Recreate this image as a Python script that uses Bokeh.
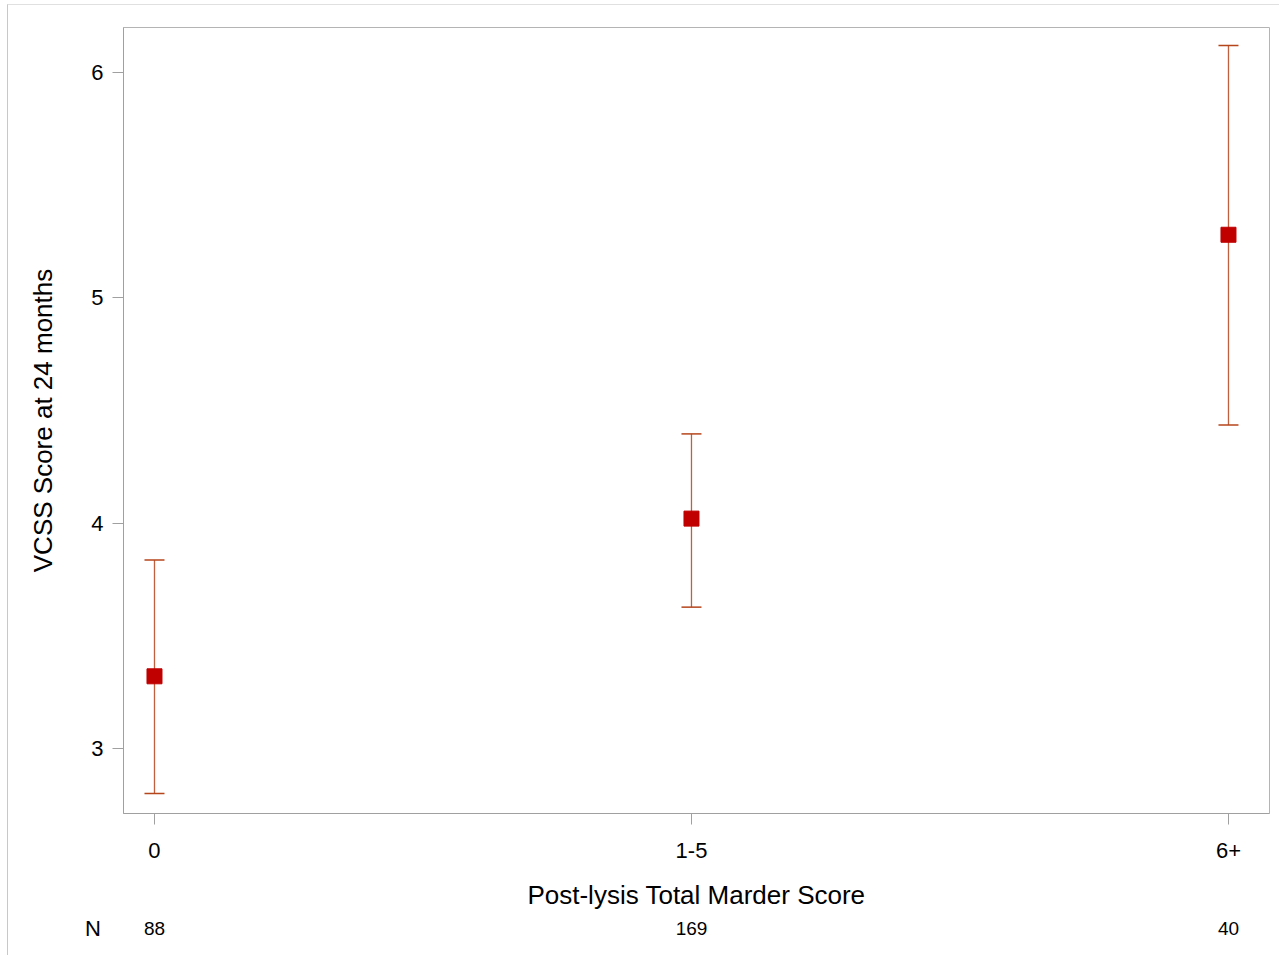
from bokeh.plotting import figure
from bokeh.models import (FixedTicker, Whisker, TeeHead, ColumnDataSource, Range1d, Label,
                          LinearAxis)
from bokeh.embed import file_html
from bokeh.resources import INLINE

# Data
categories = ["0", "1-5", "6+"]
positions = [0, 1, 2]
means = [3.32, 4.02, 5.28]
lower = [2.80, 3.627, 4.436]
upper = [3.836, 4.396, 6.12]
n_counts = ["88", "169", "40"]
y_ticks = [3, 4, 5, 6]

FONT = "Liberation Sans"
BAR_COLOR = "#B5451B"
MARK_COLOR = "#C00000"

src = ColumnDataSource(dict(x=positions, mean=means, lower=lower, upper=upper))

p = figure(width=1272, height=951, output_backend="svg", toolbar_location=None,
           x_range=Range1d(-0.0577, 2.0764), y_range=Range1d(2.711, 6.2),
           min_border_left=115, min_border_top=22, min_border_right=11, min_border_bottom=143)
p.styles = {"border-top": "1px solid #e0e0e0", "border-left": "1px solid #c8c8c8",
            "margin-left": "7px", "margin-top": "4px"}

p.xgrid.grid_line_color = None
p.ygrid.grid_line_color = None
p.outline_line_color = "#b4b4b4"
p.outline_line_width = 1

# error bars: vertical line + caps
p.segment(x0="x", y0="lower", x1="x", y1="upper", source=src,
          line_color=BAR_COLOR, line_width=1.3, line_alpha=0.85)
w = Whisker(source=src, base="x", lower="lower", upper="upper", dimension="height",
            line_alpha=0,
            upper_head=TeeHead(size=20, line_color=BAR_COLOR, line_width=1.5),
            lower_head=TeeHead(size=20, line_color=BAR_COLOR, line_width=1.5))
p.add_layout(w)

p.scatter("x", "mean", source=src, marker="square", size=15,
          fill_color=MARK_COLOR, line_color=MARK_COLOR)

# Axes
p.xaxis.ticker = FixedTicker(ticks=positions)
p.xaxis.major_label_overrides = {pos: c for pos, c in zip(positions, categories)}
p.yaxis.ticker = FixedTicker(ticks=y_ticks)
for ax in (p.xaxis[0], p.yaxis[0]):
    ax.axis_line_color = "#a0a0a0"
    ax.major_tick_line_color = "#a0a0a0"
    ax.major_tick_out = 11
    ax.major_tick_in = 0
    ax.minor_tick_line_color = None
    ax.major_label_text_font = FONT
    ax.major_label_text_font_size = "22px"
    ax.major_label_text_color = "black"
    ax.axis_label_text_font = FONT
    ax.axis_label_text_font_size = "26px"
    ax.axis_label_text_font_style = "normal"
    ax.axis_label_text_color = "black"

p.xaxis.axis_label = "Post-lysis Total Marder Score"
p.yaxis.axis_label = "VCSS Score at 24 months"
p.xaxis.major_label_standoff = 18
p.xaxis.axis_label_standoff = 19
p.yaxis.major_label_standoff = 9
p.yaxis.axis_label_standoff = 30

# N row as a second bottom axis
n_axis = LinearAxis(ticker=FixedTicker(ticks=positions),
                    major_label_overrides={pos: n for pos, n in zip(positions, n_counts)})
n_axis.axis_line_color = None
n_axis.major_tick_line_color = None
n_axis.minor_tick_line_color = None
n_axis.major_tick_out = 0
n_axis.major_label_standoff = 9
n_axis.major_label_text_font = FONT
n_axis.major_label_text_font_size = "19px"
n_axis.major_label_text_color = "black"
p.add_layout(n_axis, "below")

# "N" header, placed in a side panel so that it is not clipped to the frame
N_ROW_Y = 2.2
N_HEADER_X = -0.1145
p.add_layout(Label(x=N_HEADER_X, y=N_ROW_Y, text="N",
                   text_font=FONT, text_font_size="22px",
                   text_align="center", text_baseline="middle", text_color="black"), "left")

open("out.html", "w").write(file_html(p, INLINE))
